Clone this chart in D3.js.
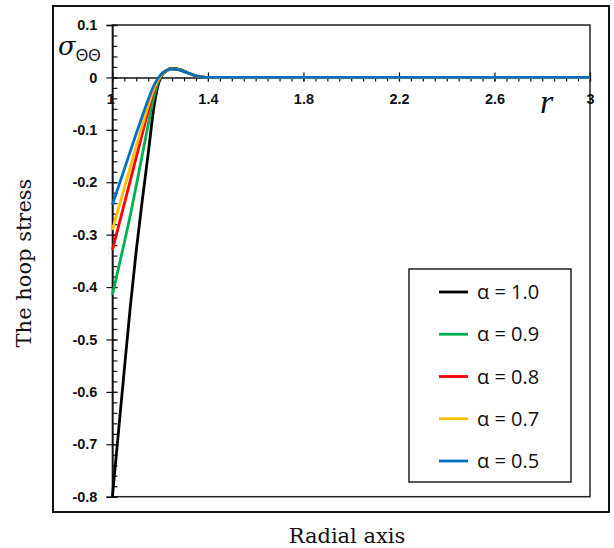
<!DOCTYPE html>
<html>
<head>
<meta charset="utf-8">
<script src="https://cdn.jsdelivr.net/npm/d3@7"></script>
<style>
  html, body { margin: 0; padding: 0; background: #fff; }
  svg { display: block; }
</style>
</head>
<body>
<svg id="chart" width="614" height="548"></svg>
<script>
// ---------------- data ----------------
const rValues = [1.000, 1.025, 1.050, 1.075, 1.100, 1.125, 1.150, 1.175, 1.200, 1.225, 1.250, 1.275, 1.300, 1.325, 1.350, 1.375, 1.400, 1.600, 1.800, 2.000, 2.200, 2.400, 2.600, 2.800, 3.000];

const alpha10 = [-0.800, -0.678, -0.557, -0.438, -0.330, -0.235, -0.145, -0.053, -0.002, 0.012, 0.017, 0.016, 0.012, 0.007, 0.003, 0.001, 0, 0, 0, 0, 0, 0, 0, 0, 0];
const alpha09 = [-0.415, -0.365, -0.315, -0.263, -0.206, -0.148, -0.090, -0.035, 0.000, 0.013, 0.017, 0.016, 0.012, 0.007, 0.003, 0.001, 0, 0, 0, 0, 0, 0, 0, 0, 0];
const alpha08 = [-0.329, -0.285, -0.241, -0.197, -0.152, -0.108, -0.064, -0.024, 0.001, 0.013, 0.0165, 0.0155, 0.0115, 0.007, 0.003, 0.001, 0, 0, 0, 0, 0, 0, 0, 0, 0];
const alpha07 = [-0.291, -0.251, -0.211, -0.171, -0.131, -0.092, -0.054, -0.020, 0.002, 0.013, 0.016, 0.015, 0.011, 0.007, 0.003, 0.001, 0, 0, 0, 0, 0, 0, 0, 0, 0];
const alpha05 = [-0.243, -0.209, -0.175, -0.141, -0.107, -0.074, -0.042, -0.014, 0.004, 0.013, 0.016, 0.015, 0.011, 0.007, 0.003, 0.001, 0, 0, 0, 0, 0, 0, 0, 0, 0];

const seriesNames = ["α = 1.0", "α = 0.9", "α = 0.8", "α = 0.7", "α = 0.5"];
const seriesColors = ["#000000", "#00b050", "#ff0000", "#ffc000", "#0070c0"];
const seriesValues = [alpha10, alpha09, alpha08, alpha07, alpha05];

const xTickValues = [1, 1.4, 1.8, 2.2, 2.6, 3];
const xTickLabels = ["1", "1.4", "1.8", "2.2", "2.6", "3"];
const yTickValues = [-0.8, -0.7, -0.6, -0.5, -0.4, -0.3, -0.2, -0.1, 0, 0.1];
const yTickLabels = ["-0.8", "-0.7", "-0.6", "-0.5", "-0.4", "-0.3", "-0.2", "-0.1", "0", "0.1"];

// ---------------- layout ----------------
const svg = d3.select("#chart");
const plot = { left: 112.4, right: 590, top: 25, bottom: 496.7 };

const x = d3.scaleLinear().domain([1, 3]).range([plot.left, plot.right]);
const y = d3.scaleLinear().domain([-0.8, 0.1]).range([plot.bottom, plot.top]);

// outer frame
svg.append("rect")
  .attr("x", 53).attr("y", 6).attr("width", 556).attr("height", 506)
  .attr("fill", "none").attr("stroke", "#111").attr("stroke-width", 2);

// plot frame
svg.append("rect")
  .attr("x", plot.left).attr("y", plot.top)
  .attr("width", plot.right - plot.left).attr("height", plot.bottom - plot.top)
  .attr("fill", "none").attr("stroke", "#222").attr("stroke-width", 1.5);

const tickFont = "'Liberation Sans', Arial, sans-serif";

// ---- y axis ----
const yMinor = d3.axisRight(y)
  .tickValues(d3.range(-80, 11, 2).map(d => d / 100))
  .tickSize(5).tickFormat("");
svg.append("g").attr("transform", `translate(${plot.left},0)`).call(yMinor)
  .call(g => g.select(".domain").remove())
  .selectAll("line").attr("stroke", "#111").attr("stroke-width", 1.2);

const yMajor = d3.axisLeft(y)
  .tickValues(yTickValues)
  .tickSize(6)
  .tickFormat((d, i) => yTickLabels[i]);
const yg = svg.append("g").attr("transform", `translate(${plot.left},0)`).call(yMajor);
yg.select(".domain").attr("stroke", "#111").attr("stroke-width", 1.5);
yg.selectAll(".tick line").attr("x1", 5).attr("x2", -6).attr("stroke", "#111").attr("stroke-width", 1.2);
yg.selectAll(".tick text")
  .attr("x", -15)
  .attr("font-family", tickFont).attr("font-weight", "bold").attr("font-size", 14.5)
  .attr("fill", "#111");

// ---- x axis (at y = 0) ----
const xMinor = d3.axisBottom(x)
  .tickValues(d3.range(100, 301, 5).map(d => d / 100))
  .tickSize(4).tickFormat("");
svg.append("g").attr("transform", `translate(0,${y(0)})`).call(xMinor)
  .call(g => g.select(".domain").remove())
  .selectAll("line").attr("stroke", "#111").attr("stroke-width", 1.2);

const xMajor = d3.axisBottom(x)
  .tickValues(xTickValues)
  .tickSize(4)
  .tickSizeOuter(0)
  .tickFormat((d, i) => xTickLabels[i]);
const xg = svg.append("g").attr("transform", `translate(0,${y(0)})`).call(xMajor);
xg.select(".domain").attr("stroke", "#111").attr("stroke-width", 1.5);
xg.selectAll(".tick line").attr("y1", -5).attr("y2", 4).attr("stroke", "#111").attr("stroke-width", 1.2);
xg.selectAll(".tick text")
  .attr("y", 27).attr("dy", 0)
  .attr("font-family", tickFont).attr("font-weight", "bold").attr("font-size", 14.5)
  .attr("fill", "#111");
xg.selectAll(".tick text").filter((d, i) => i === 0).attr("dx", -2);

// ---------------- lines ----------------
const line = d3.line()
  .x(d => x(d[0]))
  .y(d => y(d[1]))
  .curve(d3.curveMonotoneX);

seriesValues.forEach((vals, i) => {
  svg.append("path")
    .datum(rValues.map((r, j) => [r, vals[j]]))
    .attr("fill", "none")
    .attr("stroke", seriesColors[i])
    .attr("stroke-width", 2.8)
    .attr("stroke-linejoin", "round")
    .attr("d", line);
});

// ---------------- labels ----------------
// sigma label
const sig = svg.append("text").attr("x", 58).attr("y", 55)
  .attr("font-family", "'DejaVu Serif', 'Liberation Serif', serif")
  .attr("fill", "#111");
sig.append("tspan").attr("font-style", "italic").attr("font-size", 26).text("σ");
sig.append("tspan").attr("font-family", "'Liberation Sans', Arial, sans-serif")
  .attr("font-size", 16).attr("dy", 6).attr("dx", 0).text("ΘΘ");

// r label
svg.append("text").attr("x", 540).attr("y", 113)
  .attr("font-family", "'Liberation Serif', 'DejaVu Serif', serif")
  .attr("font-style", "italic").attr("font-size", 34).attr("fill", "#111")
  .text("r");

// axis titles
svg.append("text")
  .attr("transform", "translate(31,263) rotate(-90)")
  .attr("text-anchor", "middle")
  .attr("font-family", "'DejaVu Serif', 'Liberation Serif', serif")
  .attr("font-size", 21).attr("fill", "#111")
  .text("The hoop stress");

svg.append("text")
  .attr("x", 347).attr("y", 543)
  .attr("text-anchor", "middle")
  .attr("font-family", "'DejaVu Serif', 'Liberation Serif', serif")
  .attr("font-size", 21).attr("fill", "#111")
  .text("Radial axis");

// ---------------- legend ----------------
const legend = svg.append("g");
legend.append("rect")
  .attr("x", 409).attr("y", 269).attr("width", 162).attr("height", 213)
  .attr("fill", "#fff").attr("stroke", "#222").attr("stroke-width", 1.5);

const legY = d3.scalePoint().domain(seriesNames).range([292, 461]);
seriesNames.forEach((name, i) => {
  const ly = legY(name);
  legend.append("line")
    .attr("x1", 439).attr("x2", 468).attr("y1", ly).attr("y2", ly)
    .attr("stroke", seriesColors[i]).attr("stroke-width", 2.8);
  legend.append("text")
    .attr("x", 477).attr("y", ly + 7)
    .attr("font-family", "'Open Sans', 'Liberation Sans', sans-serif")
    .attr("font-size", 20).attr("fill", "#111")
    .text(name);
});
</script>
</body>
</html>
